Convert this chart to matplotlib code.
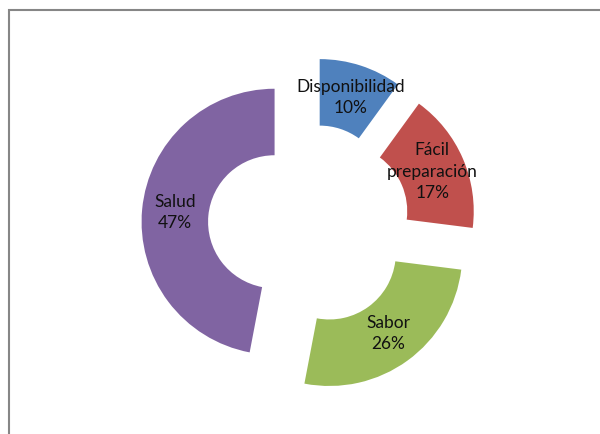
import matplotlib
matplotlib.use("Agg")
import matplotlib.pyplot as plt
from matplotlib.patches import Rectangle

# Motivos de consumo
categorias = ["Disponibilidad", "Fácil\npreparación", "Sabor", "Salud"]
porcentajes = [10, 17, 26, 47]
colores = ["#4F81BD", "#C0504D", "#9BBB59", "#8064A2"]

W, H = 600, 434
escala = 133.0          # px por unidad de radio
cx, cy = 309, 225       # centro del anillo en px

fig = plt.figure(figsize=(W / 100, H / 100), dpi=100)
ax = fig.add_axes([0, 0, 1, 1])

etiquetas = [f"{c}\n{p}%" for c, p in zip(categorias, porcentajes)]
wedges, textos = ax.pie(
    porcentajes,
    labels=etiquetas,
    colors=colores,
    startangle=90,
    counterclock=False,
    explode=[0.26] * len(porcentajes),
    radius=1.0,
    labeldistance=0.75,
    wedgeprops=dict(width=0.5, linewidth=0),
    textprops=dict(fontsize=12.5, family="Lato", color="#111111"),
)
for t in textos:
    t.set_horizontalalignment("center")
    t.set_verticalalignment("center")
    t.set_linespacing(1.4)

# pie() fija sus propios límites; se reemplazan después
ax.set_xlim(-cx / escala, (W - cx) / escala)
ax.set_ylim(-(H - cy) / escala, cy / escala)
ax.set_aspect("equal")
ax.axis("off")

# marco del área del gráfico
fig.patches.append(Rectangle((9 / W, -0.1), 1.2, (H - 10) / H + 0.1,
                             transform=fig.transFigure, fill=False,
                             edgecolor="#868686", linewidth=1.5))

fig.savefig("out.png", dpi=100, facecolor="white")
